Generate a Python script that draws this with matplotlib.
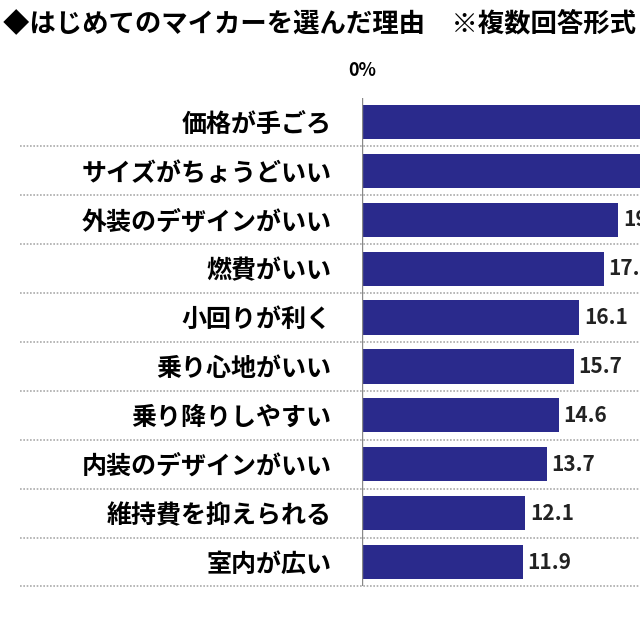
import matplotlib
matplotlib.use("Agg")
import matplotlib.pyplot as plt
from matplotlib.transforms import blended_transform_factory

plt.rcParams['font.family'] = ['Noto Sans CJK JP', 'DejaVu Sans']

categories = ["価格が手ごろ", "サイズがちょうどいい", "外装のデザインがいい", "燃費がいい", "小回りが利く",
              "乗り心地がいい", "乗り降りしやすい", "内装のデザインがいい", "維持費を抑えられる", "室内が広い"]
values = [27.0, 24.0, 19.0, 17.9, 16.1, 15.7, 14.6, 13.7, 12.1, 11.9]

fig = plt.figure(figsize=(6.4, 6.4), dpi=100)
ax = fig.add_axes([0.5656, 0.0836, 0.4344, 0.764])
y = list(range(len(categories)))
ax.barh(y, values, height=0.7, color="#2a2a8c", zorder=3)
for yi, v in zip(y, values):
    ax.text(v + 0.35, yi, f"{v:.1f}", va="center", ha="left", fontsize=15, fontweight="bold", color="#222222")
ax.set_yticks(y)
ax.set_yticklabels(categories, fontsize=18, fontweight="bold")
ax.tick_params(axis="y", length=0, pad=22)
ax.set_xticks([])
ax.set_xlim(0, 20.6)
ax.set_ylim(len(categories) - 0.5, -0.5)
for s in ax.spines.values():
    s.set_visible(False)
ax.axvline(0, color="#888888", lw=1, zorder=4)
tr = blended_transform_factory(ax.transAxes, ax.transData)
for b in [i + 0.5 for i in range(len(categories))]:
    ax.plot([-1.23, 1.0], [b, b], transform=tr, clip_on=False, color="#aaaaaa",
            lw=1.2, ls=(0, (1, 1)), zorder=1)
ax.text(0, -1.05, "0%", ha="center", va="center", fontsize=13, fontweight="bold")
fig.text(0.005, 0.963, "◆はじめてのマイカーを選んだ理由　※複数回答形式", fontsize=19, fontweight="bold", va="center", ha="left")
fig.savefig("out.png", dpi=100)
